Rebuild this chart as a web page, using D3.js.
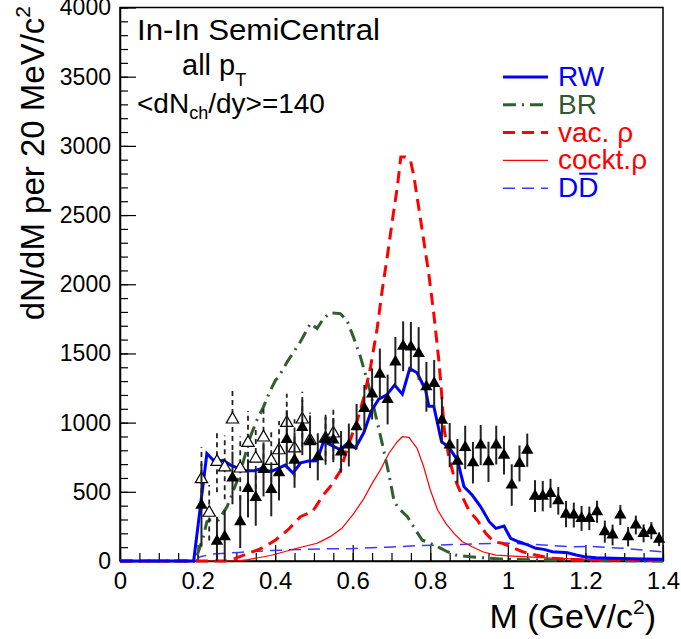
<!DOCTYPE html>
<html>
<head>
<meta charset="utf-8">
<script src="https://cdn.jsdelivr.net/npm/d3@7"></script>
<style>
  body { margin: 0; background: #fff; }
  svg { font-family: "Liberation Sans", Arial, sans-serif; }
</style>
</head>
<body>
<svg id="chart" width="681" height="639"></svg>
<script>
// mass bins (GeV/c^2), yields and errors
const filledM = [0.21,0.25,0.27,0.29,0.31,0.33,0.35,0.37,0.39,0.41,0.43,0.45,0.47,0.49,0.51,0.53,0.55,0.57,0.59,0.61,0.63,0.65,0.67,0.69,0.71,0.73,0.75,0.77,0.79,0.81,0.83,0.85,0.87,0.89,0.91,0.93,0.95,0.97,0.99,1.01,1.03,1.05,1.07,1.09,1.11,1.13,1.15,1.17,1.19,1.21,1.23,1.25,1.27,1.29,1.31,1.33,1.35,1.37,1.39];
const filledY = [404,144,176,600,284,525,460,662,518,638,879,729,965,862,753,880,874,789,838,970,1102,1208,1350,1167,1439,1552,1547,1500,1259,1283,1018,838,722,821,710,838,717,838,765,549,705,801,469,469,489,435,339,332,308,308,356,212,188,332,176,260,200,219,157];
const filledErr = [300,175,190,190,190,210,205,195,195,200,210,200,200,190,170,160,160,150,155,165,170,185,185,180,180,180,180,190,180,170,170,160,160,157,150,145,145,140,140,150,130,120,115,110,105,100,95,90,90,85,80,80,75,72,70,68,65,62,50];

const openM = [0.21,0.23,0.25,0.27,0.29,0.31,0.33,0.35,0.37,0.39,0.41,0.43,0.45,0.47,0.49,0.53,0.55];
const openY = [592,349,717,677,1023,669,854,741,893,724,801,999,814,1023,874,886,922];
const openErr = [230,200,220,230,220,230,230,220,220,220,210,210,210,200,200,190,190];

// model curves
const rwM = [0,0.19,0.224,0.245,0.266,0.285,0.306,0.325,0.346,0.367,0.388,0.408,0.426,0.446,0.466,0.486,0.508,0.525,0.547,0.568,0.589,0.607,0.629,0.648,0.667,0.687,0.708,0.728,0.747,0.766,0.788,0.796,0.809,0.829,0.848,0.87,0.887,0.908,0.93,0.952,0.969,0.99,1.007,1.028,1.051,1.072,1.093,1.115,1.136,1.154,1.176,1.197,1.227,1.27,1.347,1.4];
const rwY = [0,0,777,715,727,693,669,652,652,669,645,669,693,636,710,722,724,865,834,804,856,816,930,1085,1170,1199,1271,1206,1391,1360,1235,1119,1119,862,821,729,537,477,392,284,236,253,164,139,116,92,84,67,63,60,43,31,24,19,14,12];

const brM = [0,0.194,0.215,0.224,0.232,0.254,0.276,0.293,0.306,0.319,0.336,0.353,0.37,0.384,0.401,0.409,0.431,0.465,0.491,0.508,0.525,0.542,0.568,0.585,0.603,0.62,0.642,0.659,0.676,0.693,0.707,0.719,0.741,0.762,0.779,0.796,0.819,0.844,0.865,0.904,0.982,1.06,1.24,1.4];
const brY = [0,0,176,284,296,296,392,513,609,729,898,1018,1114,1211,1307,1331,1439,1584,1717,1680,1753,1793,1788,1740,1610,1475,1259,1054,850,633,428,380,320,224,152,132,103,67,43,30,15,8,3,0];

const vacM = [0,0.272,0.297,0.331,0.366,0.401,0.435,0.465,0.496,0.525,0.542,0.568,0.589,0.612,0.629,0.646,0.663,0.676,0.689,0.701,0.715,0.724,0.736,0.749,0.758,0.77,0.783,0.796,0.809,0.822,0.83,0.836,0.848,0.861,0.883,0.899,0.921,0.943,0.964,0.986,1.007,1.038,1.072,1.115,1.158,1.209,1.4];
const vacY = [0,0,19,55,92,152,230,320,356,480,537,650,840,1018,1186,1403,1680,1957,2197,2438,2703,2919,2919,2895,2775,2558,2318,2077,1788,1451,1180,946,753,609,464,368,296,200,139,128,103,67,43,19,12,7,3];

const cockM = [0,0.3,0.33,0.388,0.456,0.508,0.517,0.542,0.572,0.603,0.629,0.65,0.671,0.693,0.715,0.728,0.745,0.766,0.783,0.8,0.819,0.84,0.861,0.883,0.908,0.935,0.969,1.038,1.123,1.21,1.4];
const cockY = [0,0,10,40,92,128,140,176,236,344,453,561,657,777,862,898,893,814,681,513,368,272,200,139,103,67,43,31,19,12,10];

const ddM = [0,0.194,0.207,0.237,0.306,0.384,0.469,0.534,0.603,0.689,0.775,0.878,0.994,1.081,1.167,1.21,1.296,1.382,1.4];
const ddY = [0,0,31,50,62,75,84,88,90,100,112,120,130,118,102,106,92,70,65];

const xMajor = [0,0.2,0.4,0.6,0.8,1.0,1.2,1.4];
const yMajor = [0,500,1000,1500,2000,2500,3000,3500,4000];

const svg = d3.select("#chart");
const x = d3.scaleLinear().domain([0, 1.4]).range([120, 663]);
const y = d3.scaleLinear().domain([0, 4000]).range([561, 7.5]);

// frame
svg.append("rect")
  .attr("x", x(0)).attr("y", y(4000))
  .attr("width", x(1.4) - x(0)).attr("height", y(0) - y(4000))
  .attr("fill", "none").attr("stroke", "#000").attr("stroke-width", 1.5);

// axes, ticks pointing inside
const xMinor = d3.range(0, 1.4001, 0.05).map(d => +d.toFixed(2));
const yMinor = d3.range(0, 4001, 100);

svg.append("g").attr("transform", `translate(0,${y(0)})`)
  .call(d3.axisBottom(x).tickValues(xMinor).tickSizeInner(-8).tickSizeOuter(0).tickFormat(""))
  .call(g => g.select(".domain").remove());
const gx = svg.append("g").attr("transform", `translate(0,${y(0)})`)
  .call(d3.axisBottom(x).tickValues(xMajor).tickSizeInner(-16).tickSizeOuter(0).tickPadding(11)
    .tickFormat(d => d3.format("~g")(d)));
gx.select(".domain").attr("stroke-width", 1.5);
gx.selectAll("text").attr("font-size", 24).attr("fill", "#000").attr("font-family", "Liberation Sans, Arial");

svg.append("g").attr("transform", `translate(${x(0)},0)`)
  .call(d3.axisLeft(y).tickValues(yMinor).tickSizeInner(-8).tickSizeOuter(0).tickFormat(""))
  .call(g => g.select(".domain").remove());
const gy = svg.append("g").attr("transform", `translate(${x(0)},0)`)
  .call(d3.axisLeft(y).tickValues(yMajor).tickSizeInner(-16).tickSizeOuter(0).tickPadding(9)
    .tickFormat(d3.format("d")));
gy.select(".domain").attr("stroke-width", 1.5);
gy.selectAll("text").attr("font-size", 23).attr("fill", "#000").attr("font-family", "Liberation Sans, Arial");
svg.selectAll(".tick line").attr("stroke", "#000").attr("stroke-width", 1.2);

// axis titles
const xt = svg.append("text")
  .attr("x", 656).attr("y", 628).attr("text-anchor", "end").attr("font-size", 34);
xt.append("tspan").text("M (GeV/c");
xt.append("tspan").attr("font-size", 21).attr("dy", -14).text("2");
xt.append("tspan").attr("dy", 14).text(")");

const yt = svg.append("text")
  .attr("transform", "translate(44,6) rotate(-90)")
  .attr("text-anchor", "end").attr("font-size", 33);
yt.append("tspan").text("dN/dM per 20 MeV/c");
yt.append("tspan").attr("font-size", 21).attr("dy", -14).text("2");

// curves
const line = d3.line().x(d => x(d[0])).y(d => y(d[1]));
const curves = [
  {m: ddM,   v: ddY,   color: "#3a3aff", w: 1.5, dash: "12,7"},
  {m: cockM, v: cockY, color: "#ff0000", w: 1.2, dash: null},
  {m: brM,   v: brY,   color: "#305e30", w: 3,   dash: "13,6,2,6"},
  {m: vacM,  v: vacY,  color: "#ff0000", w: 3,   dash: "12,7"},
  {m: rwM,   v: rwY,   color: "#0000ff", w: 3,   dash: null}
];
curves.forEach(c => {
  svg.append("path")
    .datum(c.m.map((m, i) => [m, c.v[i]]))
    .attr("d", line)
    .attr("fill", "none")
    .attr("stroke", c.color)
    .attr("stroke-width", c.w)
    .attr("stroke-dasharray", c.dash);
});

// data points
const tri = d3.symbol(d3.symbolTriangle, 66);
const openPts = openM.map((m, i) => ({m: m, v: openY[i], e: openErr[i]}));
const filledPts = filledM.map((m, i) => ({m: m, v: filledY[i], e: filledErr[i]}));

svg.selectAll("line.openErr").data(openPts).join("line")
  .attr("x1", d => x(d.m)).attr("x2", d => x(d.m))
  .attr("y1", d => y(d.v - d.e)).attr("y2", d => y(d.v + d.e))
  .attr("stroke", "#222").attr("stroke-width", 1.8).attr("stroke-dasharray", "5,4");
svg.selectAll("path.openPt").data(openPts).join("path")
  .attr("d", tri)
  .attr("transform", d => `translate(${x(d.m)},${y(d.v)})`)
  .attr("fill", "#fff").attr("stroke", "#000").attr("stroke-width", 1.2);

svg.selectAll("line.fillErr").data(filledPts).join("line")
  .attr("x1", d => x(d.m)).attr("x2", d => x(d.m))
  .attr("y1", d => y(Math.max(d.v - d.e, 0))).attr("y2", d => y(d.v + d.e))
  .attr("stroke", "#222").attr("stroke-width", 2);
svg.selectAll("path.fillPt").data(filledPts).join("path")
  .attr("d", tri)
  .attr("transform", d => `translate(${x(d.m)},${y(d.v)})`)
  .attr("fill", "#000");

// labels top-left
svg.append("text").attr("x", 137).attr("y", 40).attr("font-size", 29)
  .attr("textLength", 243).attr("lengthAdjust", "spacingAndGlyphs").text("In-In SemiCentral");
const pt = svg.append("text").attr("x", 182).attr("y", 75).attr("font-size", 29);
pt.append("tspan").text("all p");
pt.append("tspan").attr("font-size", 18).attr("dy", 11).text("T");
const nch = svg.append("text").attr("x", 137).attr("y", 113).attr("font-size", 28);
nch.append("tspan").text("<dN");
nch.append("tspan").attr("font-size", 18).attr("dy", 6).text("ch");
nch.append("tspan").attr("dy", -6).text("/dy>=140");

// legend
const legend = [
  {label: "RW",      color: "#0000ff", lc: "#0000ff", w: 3,   dash: null},
  {label: "BR",      color: "#2f5a2f", lc: "#305e30", w: 3,   dash: "13,6,2,6"},
  {label: "vac. ρ",  color: "#ff0000", lc: "#ff0000", w: 3,   dash: "12,7"},
  {label: "cockt.ρ", color: "#ff0000", lc: "#ff0000", w: 1.2, dash: null},
  {label: "DD",      color: "#0000ff", lc: "#3a3aff", w: 1.5, dash: "12,7"}
];
const lg = svg.append("g").attr("transform", "translate(503,77)");
legend.forEach((d, i) => {
  const yy = i * 27.8;
  lg.append("line").attr("x1", 0).attr("x2", 45).attr("y1", yy).attr("y2", yy)
    .attr("stroke", d.lc).attr("stroke-width", d.w).attr("stroke-dasharray", d.dash);
  const t = lg.append("text").attr("x", 55).attr("y", yy + 9).attr("font-size", 28).attr("fill", d.color);
  if (d.label === "DD") {
    t.append("tspan").text("D");
    t.append("tspan").text("D");
    // bar over the second D (anti-D)
    const w1 = t.node().getSubStringLength(0, 1);
    const w2 = t.node().getSubStringLength(1, 1);
    lg.append("line")
      .attr("x1", 55 + w1 + 1).attr("x2", 55 + w1 + w2 - 1)
      .attr("y1", yy + 9 - 23.5).attr("y2", yy + 9 - 23.5)
      .attr("stroke", d.color).attr("stroke-width", 2);
  } else {
    t.text(d.label);
  }
});
</script>
</body>
</html>
